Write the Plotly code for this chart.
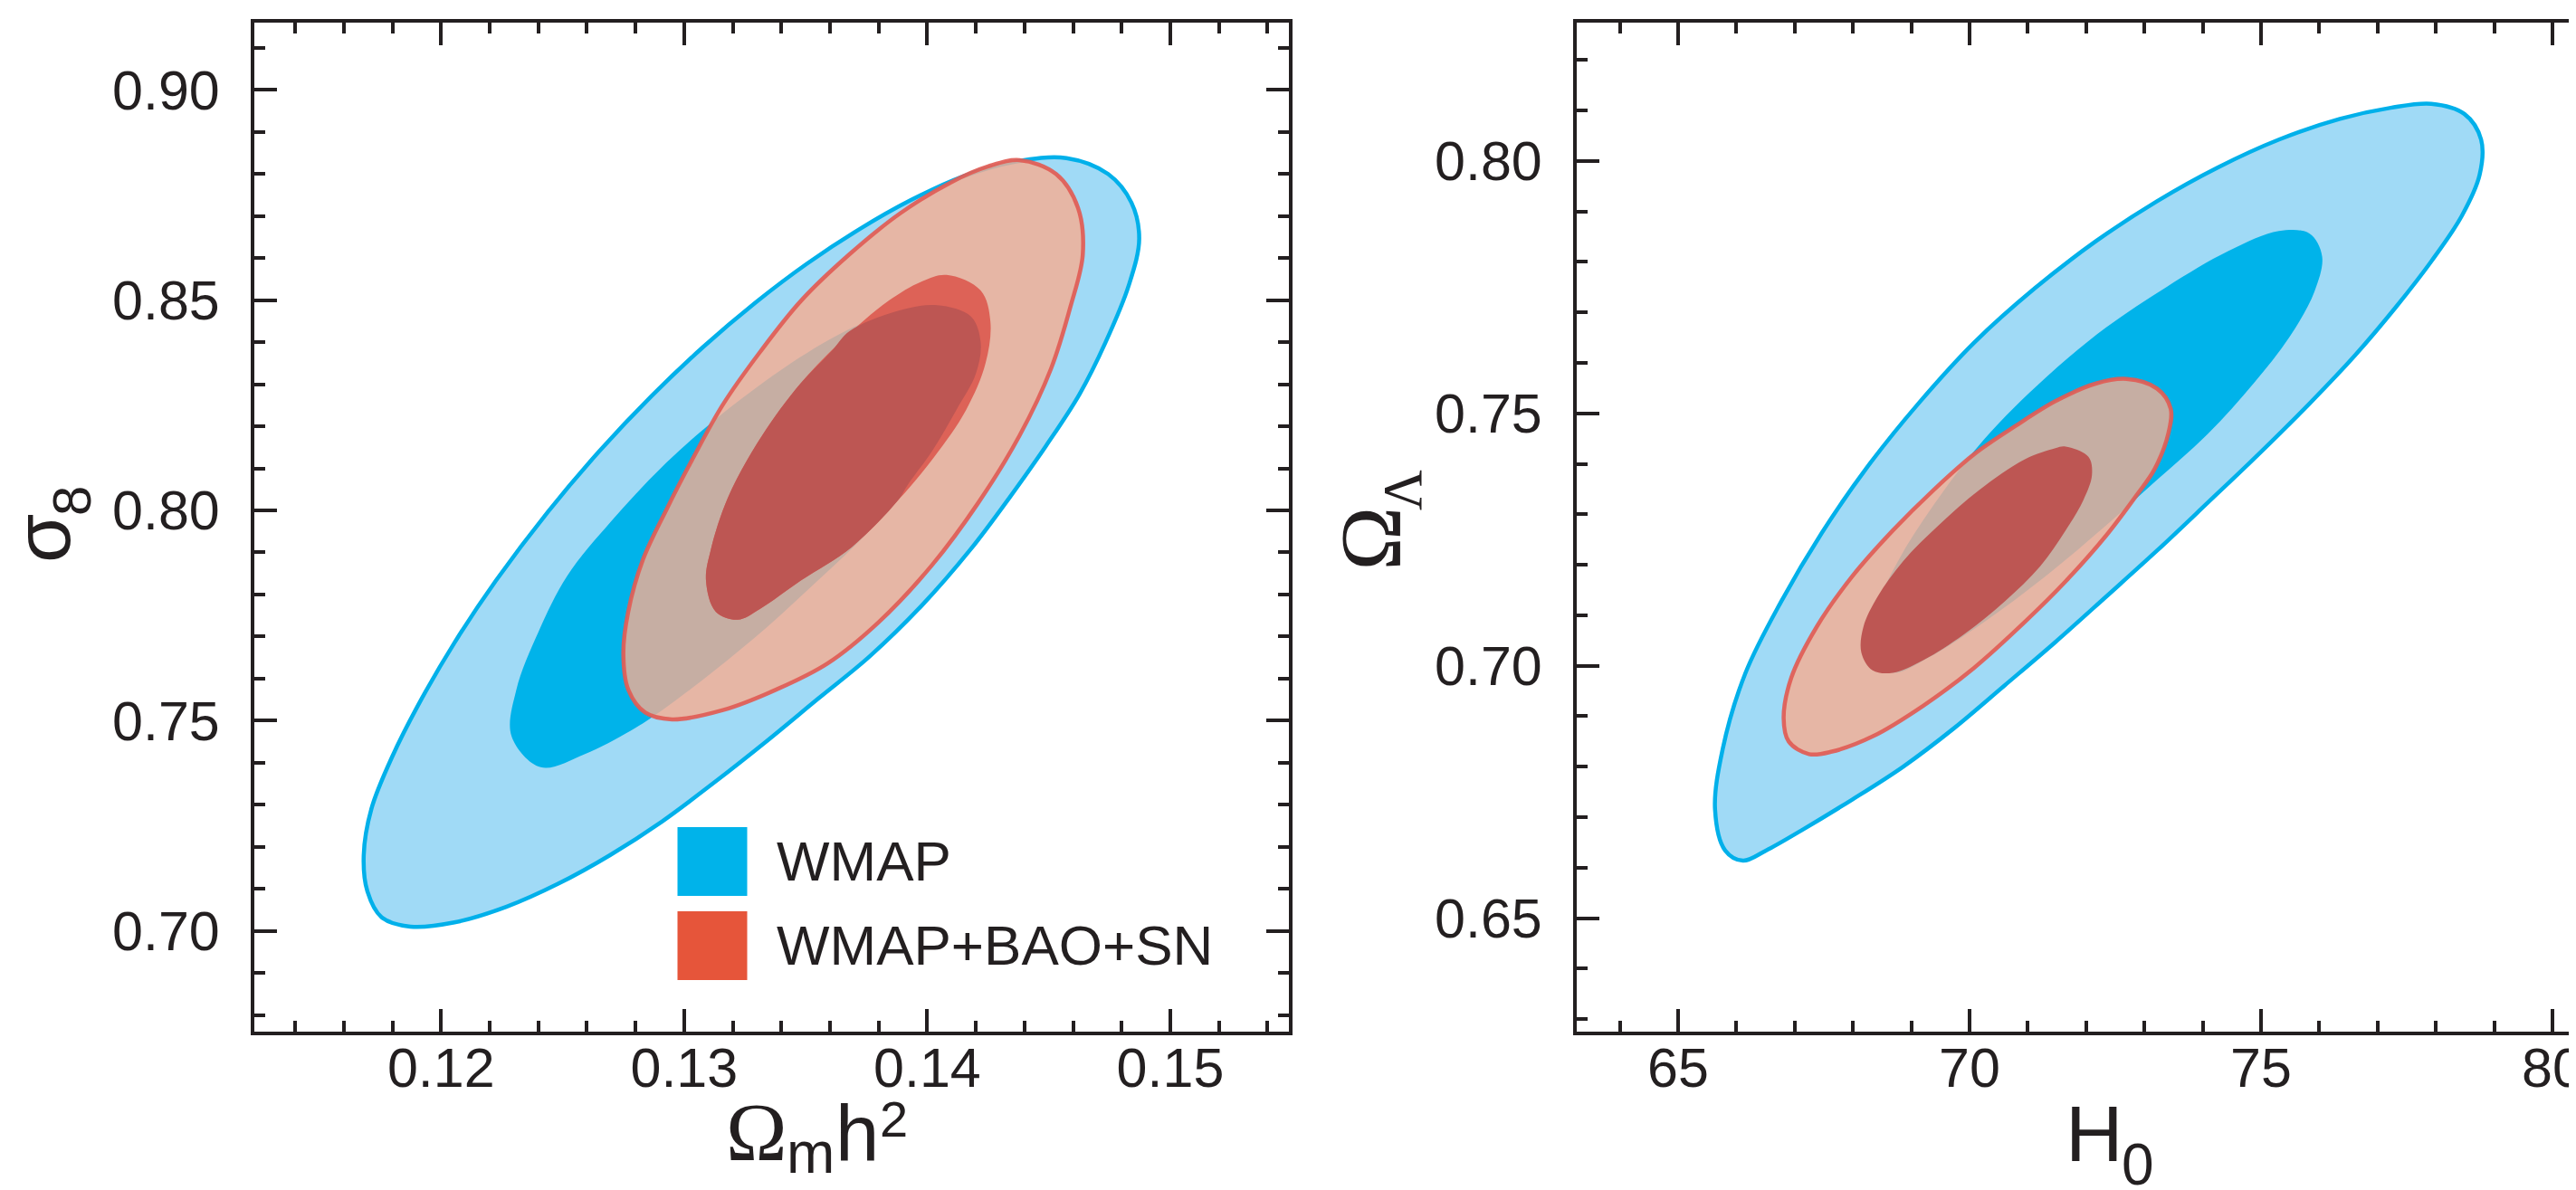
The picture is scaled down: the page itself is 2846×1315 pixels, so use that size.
import plotly.graph_objects as go

W, H = 2846, 1315
INK = "#231F20"
SANS = "Liberation Sans, Arial, Helvetica, sans-serif"
SERIF = "Liberation Serif, Times New Roman, serif"

series_names = ["WMAP", "WMAP+BAO+SN"]

# ---- left panel: Omega_m h^2 vs sigma_8 (contour outlines)
omh2_ticks = [0.12, 0.13, 0.14, 0.15]
s8_ticks = [0.70, 0.75, 0.80, 0.85, 0.90]

wmap95_omh2 = [0.11682, 0.11714, 0.11799, 0.11906, 0.12055, 0.12226, 0.12439, 0.12653, 0.12866,
               0.13079, 0.13293, 0.13506, 0.13719, 0.13933, 0.14146, 0.14360, 0.14573, 0.14744,
               0.14840, 0.14872, 0.14829, 0.14733, 0.14626, 0.14488, 0.14338, 0.14178, 0.13975,
               0.13762, 0.13549, 0.13335, 0.13122, 0.12909, 0.12695, 0.12482, 0.12268, 0.12055,
               0.11874, 0.11756, 0.11697]
wmap95_s8 = [0.7180, 0.7291, 0.7414, 0.7537, 0.7685, 0.7833, 0.7996, 0.8142, 0.8272, 0.8389,
             0.8494, 0.8587, 0.8668, 0.8738, 0.8794, 0.8829, 0.8838, 0.8800, 0.8732, 0.8646,
             0.8535, 0.8399, 0.8276, 0.8153, 0.8030, 0.7907, 0.7772, 0.7652, 0.7551, 0.7449,
             0.7352, 0.7260, 0.7180, 0.7112, 0.7057, 0.7020, 0.7010, 0.7032, 0.7094]

wmap68_omh2 = [0.1229, 0.1241, 0.1259, 0.1278, 0.1291, 0.1312, 0.1334, 0.1355, 0.1376, 0.1393,
               0.1408, 0.1419, 0.1422, 0.1418, 0.1404, 0.1387, 0.1369, 0.1344, 0.1313, 0.1291,
               0.1270, 0.1252, 0.1240, 0.1231]
wmap68_s8 = [0.7463, 0.7389, 0.7420, 0.7476, 0.7525, 0.7617, 0.7722, 0.7833, 0.7950, 0.8067,
             0.8202, 0.8313, 0.8399, 0.8461, 0.8488, 0.8473, 0.8434, 0.8350, 0.8217, 0.8104,
             0.7974, 0.7845, 0.7710, 0.7574]

comb95_omh2 = [0.1438, 0.1453, 0.1462, 0.1464, 0.1459, 0.1451, 0.1438, 0.1421, 0.1402, 0.1380,
               0.1359, 0.1338, 0.1316, 0.1295, 0.1284, 0.1277, 0.1275, 0.1277, 0.1283, 0.1293,
               0.1304, 0.1316, 0.1331, 0.1348, 0.1368, 0.1389, 0.1410, 0.1425]
comb95_s8 = [0.8833, 0.8800, 0.8720, 0.8609, 0.8486, 0.8338, 0.8178, 0.8018, 0.7870, 0.7734,
             0.7636, 0.7574, 0.7525, 0.7503, 0.7519, 0.7574, 0.7660, 0.7759, 0.7882, 0.8005,
             0.8128, 0.8252, 0.8375, 0.8498, 0.8609, 0.8707, 0.8781, 0.8818]

comb68_omh2 = [0.1408, 0.1422, 0.1426, 0.1424, 0.1416, 0.1403, 0.1388, 0.1369, 0.1348, 0.1331,
               0.1322, 0.1313, 0.1309, 0.1311, 0.1318, 0.1330, 0.1346, 0.1364, 0.1384, 0.1398]
comb68_s8 = [0.8560, 0.8523, 0.8449, 0.8350, 0.8239, 0.8128, 0.8024, 0.7913, 0.7833, 0.7765,
             0.7740, 0.7759, 0.7833, 0.7907, 0.8030, 0.8159, 0.8289, 0.8399, 0.8498, 0.8545]

# part of the combined 68% region lying on top of the WMAP 68% region (drawn darker)
both68_omh2 = [0.1368, 0.1387, 0.1404, 0.1418, 0.1422, 0.1420, 0.1412, 0.1402, 0.1392, 0.1388,
               0.1369, 0.1348, 0.1331, 0.1322, 0.1313, 0.1309, 0.1311, 0.1318, 0.1330, 0.1346,
               0.1361]
both68_s8 = [0.8426, 0.8473, 0.8488, 0.8461, 0.8399, 0.8325, 0.8239, 0.8141, 0.8061, 0.8024,
             0.7913, 0.7833, 0.7765, 0.7740, 0.7759, 0.7833, 0.7907, 0.8030, 0.8159, 0.8289,
             0.8381]

# ---- right panel: H0 vs Omega_Lambda
h0_ticks = [65, 70, 75, 80]
ol_ticks = [0.65, 0.70, 0.75, 0.80]

wmap95_h0 = [65.634, 65.765, 66.157, 66.767, 67.464, 68.248, 69.120, 70.079, 71.124, 72.170,
             73.216, 74.262, 75.307, 76.353, 77.225, 77.922, 78.488, 78.776, 78.750, 78.445,
             77.922, 77.312, 76.615, 75.830, 74.959, 74.087, 73.216, 72.344, 71.473, 70.601,
             69.730, 68.859, 67.987, 67.116, 66.506, 66.113, 65.808]
wmap95_ol = [0.6715, 0.6835, 0.6986, 0.7127, 0.7263, 0.7394, 0.7519, 0.7640, 0.7748, 0.7841,
             0.7920, 0.7987, 0.8042, 0.8083, 0.8105, 0.8113, 0.8093, 0.8042, 0.7972, 0.7891,
             0.7801, 0.7710, 0.7615, 0.7519, 0.7419, 0.7323, 0.7228, 0.7137, 0.7047, 0.6961,
             0.6876, 0.6800, 0.6735, 0.6674, 0.6634, 0.6614, 0.6634]

wmap68_h0 = [68.292, 68.379, 68.771, 69.381, 70.253, 71.299, 72.344, 73.390, 74.436, 75.307,
             75.830, 76.048, 75.917, 75.482, 74.872, 74.087, 73.216, 72.344, 71.299, 70.253,
             69.294, 68.684]
wmap68_ol = [0.7016, 0.7107, 0.7207, 0.7318, 0.7449, 0.7570, 0.7670, 0.7751, 0.7821, 0.7861,
             0.7856, 0.7811, 0.7741, 0.7650, 0.7559, 0.7459, 0.7368, 0.7278, 0.7177, 0.7087,
             0.7016, 0.6986]

comb95_h0 = [66.811, 66.941, 67.377, 67.987, 68.684, 69.381, 70.079, 70.776, 71.473, 72.170,
             72.693, 73.216, 73.451, 73.408, 73.172, 72.867, 72.344, 71.647, 70.950, 70.079,
             69.207, 68.336, 67.639, 67.246, 66.898]
comb95_ol = [0.6896, 0.6976, 0.7077, 0.7177, 0.7268, 0.7348, 0.7419, 0.7474, 0.7524, 0.7559,
             0.7568, 0.7549, 0.7509, 0.7459, 0.7389, 0.7338, 0.7258, 0.7167, 0.7087, 0.6996,
             0.6921, 0.6860, 0.6830, 0.6825, 0.6850]

comb68_h0 = [71.647, 72.039, 72.100, 71.952, 71.647, 71.212, 70.601, 69.904, 69.207, 68.684,
             68.336, 68.144, 68.179, 68.423, 68.859, 69.469, 70.166, 70.950, 71.473]
comb68_ol = [0.7434, 0.7414, 0.7378, 0.7328, 0.7268, 0.7197, 0.7127, 0.7062, 0.7011, 0.6986,
             0.6991, 0.7026, 0.7077, 0.7137, 0.7207, 0.7278, 0.7348, 0.7409, 0.7431]

# colours
WMAP_95 = "#A0DAF6"
WMAP_68 = "#00B3EA"
WMAP_EDGE = "#00B0EA"
COMB_95 = "rgba(248,172,145,0.8)"
COMB_EDGE = "rgba(225,92,85,0.92)"
COMB_68 = "#DD6257"
COMB_68_DARK = "#BD5653"
LEGEND_COLORS = ["#00B3EA", "#E6553A"]


def region(x, y, fill, edge=None, xa="x", ya="y", start=0):
    """Closed, smoothed, filled contour. `start` picks the seam point (on a flat stretch)."""
    xs = list(x[start:]) + list(x[:start + 1])
    ys = list(y[start:]) + list(y[:start + 1])
    return go.Scatter(
        x=xs, y=ys, mode="lines", fill="toself", fillcolor=fill,
        line=dict(color=edge or "rgba(0,0,0,0)", width=4.5 if edge else 0,
                  shape="spline", smoothing=1.0, simplify=False),
        xaxis=xa, yaxis=ya, hoverinfo="skip", showlegend=False,
    )


fig = go.Figure()

fig.add_trace(region(wmap95_omh2, wmap95_s8, WMAP_95, WMAP_EDGE, start=9))
fig.add_trace(region(wmap68_omh2, wmap68_s8, WMAP_68, start=5))
fig.add_trace(region(comb95_omh2, comb95_s8, COMB_95, COMB_EDGE, start=10))
fig.add_trace(region(comb68_omh2, comb68_s8, COMB_68, start=6))
fig.add_trace(region(both68_omh2, both68_s8, COMB_68_DARK, start=10))

fig.add_trace(region(wmap95_h0, wmap95_ol, WMAP_95, WMAP_EDGE, "x2", "y2", start=8))
fig.add_trace(region(wmap68_h0, wmap68_ol, WMAP_68, None, "x2", "y2", start=6))
fig.add_trace(region(comb95_h0, comb95_ol, COMB_95, COMB_EDGE, "x2", "y2", start=6))
# in this panel the combined 68% region sits almost entirely on the WMAP 68% one
fig.add_trace(region(comb68_h0, comb68_ol, COMB_68_DARK, None, "x2", "y2", start=15))

tickfont = dict(family=SANS, size=61, color=INK)
axis_style = dict(
    showline=True, linecolor=INK, linewidth=4, mirror="allticks",
    ticks="inside", ticklen=25, tickwidth=4, tickcolor=INK,
    showgrid=False, zeroline=False, tickfont=tickfont,
)


def minor(step, start):
    return dict(ticks="inside", ticklen=12, tickwidth=4, tickcolor=INK,
                dtick=step, tick0=start, showgrid=False)


ydom = [1 - 1132 / H, 1 - 17 / H]

fig.update_layout(
    width=W, height=H,
    margin=dict(l=0, r=0, t=0, b=0),
    paper_bgcolor="white", plot_bgcolor="white",
    showlegend=False,
    xaxis=dict(domain=[273 / W, 1415.5 / W], range=[0.11232, 0.15486], anchor="y",
               tickvals=omh2_ticks, ticktext=[f"{v:.2f}" for v in omh2_ticks],
               minor=minor(0.002, 0.12), ticklabelstandoff=-16, **axis_style),
    yaxis=dict(domain=ydom, range=[0.67602, 0.91601], anchor="x",
               tickvals=s8_ticks, ticktext=[f"{v:.2f}" for v in s8_ticks],
               minor=minor(0.01, 0.70), ticklabelstandoff=22, **axis_style),
    xaxis2=dict(domain=[1734 / W, 1.0], range=[63.261, 80.528], anchor="y2",
                tickvals=h0_ticks, ticktext=[str(v) for v in h0_ticks],
                minor=minor(1, 65), ticklabelstandoff=-16, **axis_style),
    yaxis2=dict(domain=ydom, range=[0.62754, 0.82737], anchor="x2",
                tickvals=ol_ticks, ticktext=[f"{v:.2f}" for v in ol_ticks],
                minor=minor(0.01, 0.65), ticklabelstandoff=22,
                **{**axis_style, "mirror": False}),
    # right frame of this panel is cut off by the picture edge: only tick stubs remain
    yaxis3=dict(domain=ydom, range=[0.62754, 0.82737], anchor="x2", overlaying="y2",
                side="right", tickvals=ol_ticks, ticks="inside", ticklen=9, tickwidth=4,
                tickcolor=INK, showticklabels=False, showline=False, showgrid=False,
                zeroline=False),
)


def glyph(text, cx, cy, size, family=SANS, angle=0):
    # axis titles are set piece by piece (serif Omega, sans letters, sub/superscripts)
    return dict(text=text, x=cx / W, y=1 - cy / H, xref="paper", yref="paper",
                showarrow=False, xanchor="center", yanchor="middle", textangle=angle,
                font=dict(family=family, size=size, color=INK))


annotations = [
    # Omega_m h^2
    glyph("Ω", 828, 1243, 91, SERIF),
    glyph("m", 887, 1266, 64),
    glyph("h", 939, 1243.5, 87),
    glyph("2", 979, 1228, 56),
    # sigma_8
    glyph("σ", 38.5, 587.5, 88, angle=-90),
    glyph("8", 71, 546, 60, angle=-90),
    # Omega_Lambda
    glyph("Ω", 1506, 587.5, 95, SERIF, angle=-90),
    glyph("Λ", 1541, 533, 62, SERIF, angle=-90),
    # H_0
    glyph("H", 2306, 1244, 88),
    glyph("0", 2354, 1279, 64),
]

# legend drawn by hand inside the left panel
legend_top = [906, 999]
for name, color, top in zip(series_names, LEGEND_COLORS, legend_top):
    fig.add_shape(type="rect", xref="paper", yref="paper",
                  x0=740.5 / W, x1=817.5 / W, y0=1 - (top + 76) / H, y1=1 - top / H,
                  fillcolor=color, line=dict(width=0))
    annotations.append(dict(text=name, x=848 / W, y=1 - (top + 37) / H, xref="paper",
                            yref="paper", showarrow=False, xanchor="left", yanchor="middle",
                            font=dict(family=SANS, size=62, color=INK)))

fig.update_layout(annotations=annotations)

fig.write_html("out.html")
